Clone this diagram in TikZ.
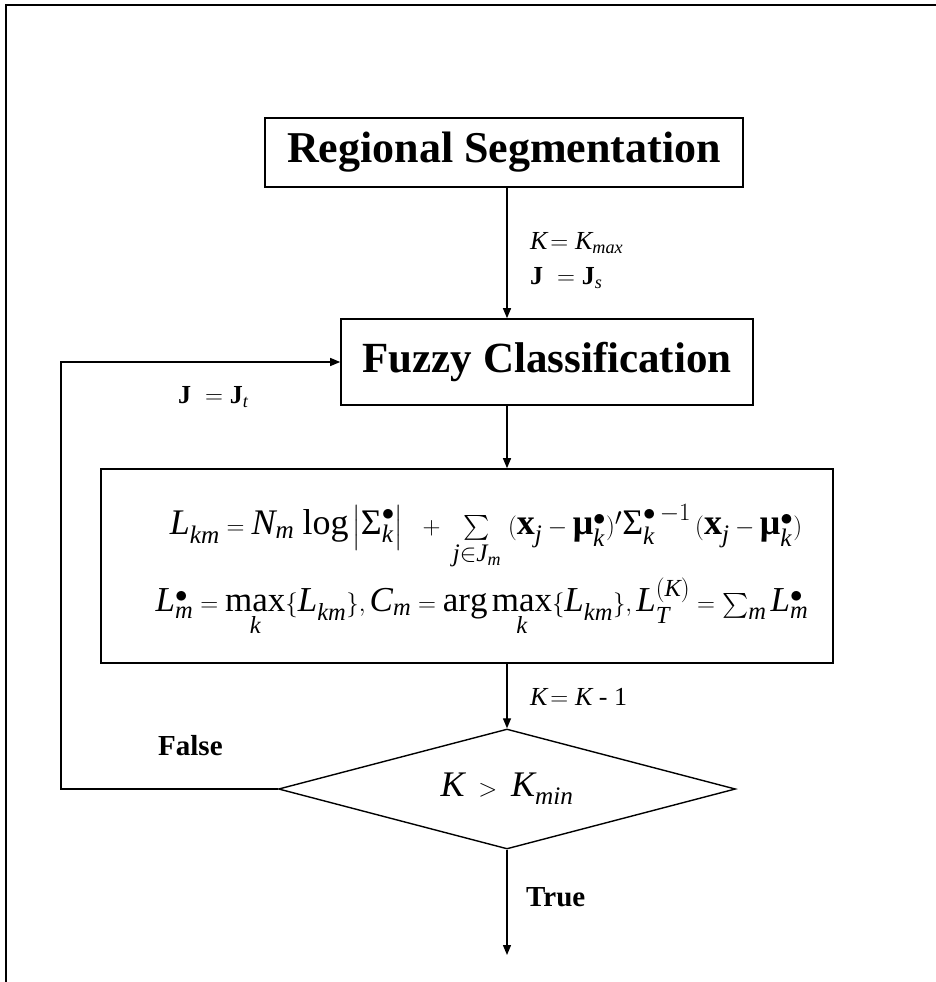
\documentclass[tikz,border=0pt]{standalone}
\usepackage{amsmath}
\usepackage{fontspec}
\setmainfont{Liberation Serif}
\usetikzlibrary{arrows.meta,shapes.geometric}
\newcommand{\vi}[1]{\mathit{#1}}
\newcommand{\Sg}{\text{Σ}}
\newcommand{\bmu}{\text{\bfseries μ}}
\begin{document}
\begin{tikzpicture}[x=1pt,y=-1pt,
  box/.style={draw, line width=1.6pt, inner sep=0pt},
  arr/.style={line width=1.3pt, -{Triangle[length=10pt,width=8pt]}},
  lbl/.style={anchor=west, inner sep=0pt, font=\fontsize{26}{28}\selectfont},
  blbl/.style={anchor=west, inner sep=0pt, font=\bfseries\fontsize{29}{31}\selectfont}]
\useasboundingbox (0,0) rectangle (936,982);
\draw[line width=2.8pt] (6,982) -- (6,5) -- (936,5);
\coordinate (ax) at (507,0);
\node[box, minimum width=478pt, minimum height=69pt, font=\bfseries\fontsize{44}{46}\selectfont] (rs) at (504,152.5) {Regional Segmentation};
\node[box, minimum width=412pt, minimum height=86pt, font=\bfseries\fontsize{43}{45}\selectfont] (fc) at (547,362) {Fuzzy Classification\hspace{14pt}};
\node[box, minimum width=732pt, minimum height=194pt] (fm) at (467,566) {};
\node[inner sep=0pt, font=\fontsize{36}{38}\selectfont] (eq1) at (486,537) {$\vi{L}_{\vi{km}} = \vi{N}_{\vi{m}}\,\log\left|\Sg^{\bullet}_{\vi{k}}\right| \;\;+\; \sum\limits_{\vi{j}\in \vi{J}_{\vi{m}}} \;(\mathbf{x}_{\vi{j}} - \bmu^{\bullet}_{\vi{k}})'\Sg^{\bullet\,-1}_{\vi{k}}\,(\mathbf{x}_{\vi{j}} - \bmu^{\bullet}_{\vi{k}})$};
\node[inner sep=0pt, font=\fontsize{35}{37}\selectfont] (eq2) at (482,607) {$\vi{L}^{\bullet}_{\vi{m}} = \max\limits_{\vi{k}}\{\vi{L}_{\vi{km}}\}, \vi{C}_{\vi{m}} = \arg\max\limits_{\vi{k}}\{\vi{L}_{\vi{km}}\}, \vi{L}^{(\vi{K})}_{\vi{T}} = \textstyle\sum_{\vi{m}} \vi{L}^{\bullet}_{\vi{m}}$};
\node[diamond, draw, line width=1.4pt, inner sep=0pt, minimum width=457pt, minimum height=120pt, aspect=3.8] (dc) at (507,789) {};
\node[font=\fontsize{36}{38}\selectfont, inner sep=0pt] (dt) at (dc.center) {$\vi{K} \;>\; \vi{K}_{\vi{min}}$};
\coordinate (lp) at (61,0);
\coordinate (out) at (507,955);
\draw[arr] (rs.south -| ax) -- (fc.north -| ax);
\draw[arr] (fc.south -| ax) -- (fm.north -| ax);
\draw[arr] (fm.south -| dc.north) -- (dc.north);
\draw[arr] (dc.south) -- (out);
\draw[arr] (dc.west) -- (dc.west -| lp) -- (fc.west -| lp) -- (fc.west);
\node[lbl] (l1) at (530,243) {$\vi{K}\!=\vi{K}_{\vi{max}}$};
\node[lbl] (l2) at (530,278) {$\mathbf{J}\;=\mathbf{J}_{\vi{s}}$};
\node[lbl] (l3) at (178,397) {$\mathbf{J}\;=\mathbf{J}_{\vi{t}}$};
\node[lbl] (l4) at (530,697) {$\vi{K}\!=\vi{K}$ - 1};
\node[blbl] (l5) at (158,746) {False};
\node[blbl] (l6) at (526,897) {True};
\end{tikzpicture}
\end{document}
